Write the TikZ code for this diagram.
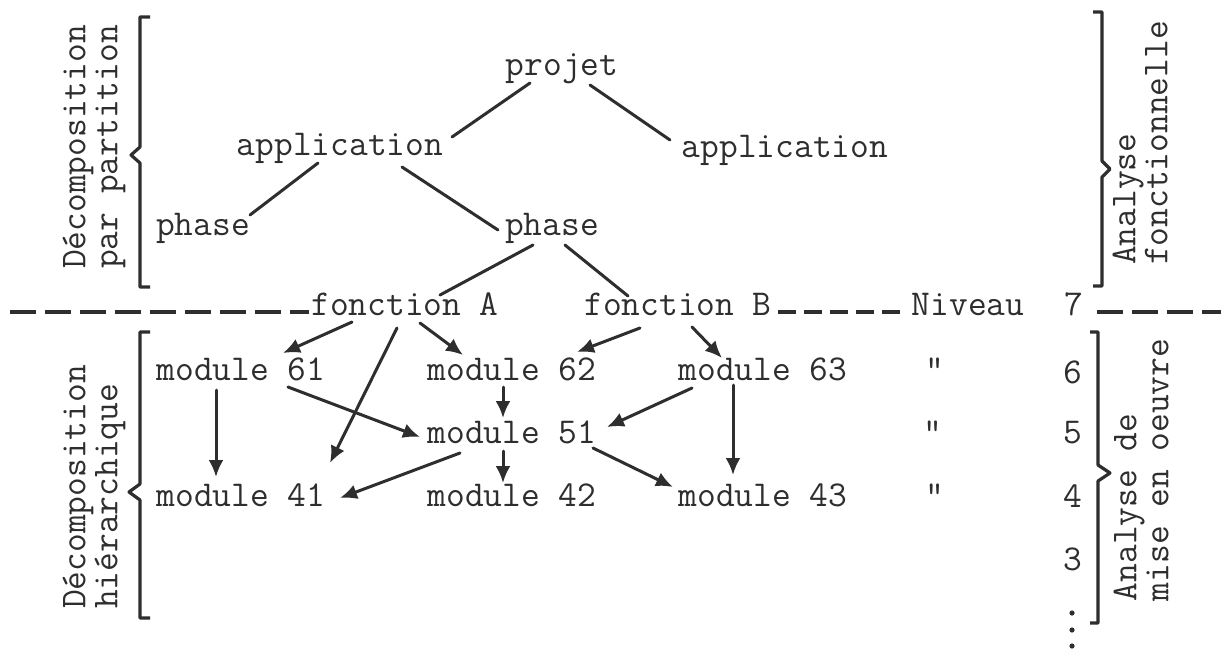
\documentclass[tikz,border=0pt]{standalone}
\usepackage{fontspec}
\usetikzlibrary{arrows.meta}
\definecolor{ink}{HTML}{2E2E2E}
\begin{document}
\begin{tikzpicture}[x=0.5pt,y=-0.5pt,
  every node/.style={inner sep=0pt,text=ink,font=\fontsize{18.2}{16}\selectfont\ttfamily},
  lbl/.style={anchor=base},
  side/.style={rotate=90,align=left},
  link/.style={draw=ink,line width=1.5pt,line cap=round},
  arr/.style={link,-{Latex[length=8.5pt,width=7.5pt]}},
  brace/.style={draw=ink,line width=1.6pt,line join=round},
  dashline/.style={draw=ink,line width=2pt,dash pattern=on 13pt off 4.5pt}]
\useasboundingbox[fill=white] (0,0) rectangle (1221,649);

% --- partition tree (upper half)
\node[lbl] (pj)   at (562,75)  {projet};
\node[lbl] (appL) at (340,155) {application};
\node[lbl] (appR) at (785,157) {application};
\node[lbl] (phL)  at (203,235) {phase};
\node[lbl] (phR)  at (552,235) {phase};

% --- level 7 row
\node[lbl] (fA)  at (405,315)  {fonction A};
\node[lbl] (fB)  at (678,315)  {fonction B};
\node[lbl] (niv) at (968,315)  {Niveau};
\node[lbl] (n7)  at (1074,315) {7};

% --- module hierarchy (lower half)
\node[lbl] (m61) at (241,380) {module 61};
\node[lbl] (m62) at (512,380) {module 62};
\node[lbl] (m63) at (763,380) {module 63};
\node[lbl] (m51) at (512,443) {module 51};
\node[lbl] (m41) at (241,506) {module 41};
\node[lbl] (m42) at (512,506) {module 42};
\node[lbl] (m43) at (763,506) {module 43};

% --- ditto marks and level numbers
\node[lbl] (d6) at (935,380) {"};
\node[lbl] (d5) at (933,443) {"};
\node[lbl] (d4) at (935,506) {"};
\node[lbl] (n6) at (1073,383) {6};
\node[lbl] (n5) at (1073,443) {5};
\node[lbl] (n4) at (1073,507) {4};
\node[lbl] (n3) at (1073,570) {3};
\foreach \yy in {613,630,646} \fill[ink] (1072,\yy) circle (2.6);

% --- side labels
\node[side] (lp) at (94,147)   {Décomposition\\par partition};
\node[side] (lh) at (94,487)   {Décomposition\\hiérarchique};
\node[side] (rf) at (1140,143) {Analyse\\fonctionnelle};
\node[side] (rm) at (1141,470) {Analyse de\\mise en oeuvre};

% --- braces
\draw[brace] (150,17) -- (140,17) -- (140,147) -- (131,155) -- (140,163) -- (140,287) -- (150,287);
\draw[brace] (150,332) -- (140,332) -- (140,484) -- (129,492) -- (140,500) -- (140,618) -- (150,618);
\draw[brace] (1093,12) -- (1102,12) -- (1102,161) -- (1110,169) -- (1102,177) -- (1102,286) -- (1093,286);
\draw[brace] (1090,332) -- (1098,332) -- (1098,465) -- (1110,473) -- (1098,481) -- (1098,623) -- (1090,623);

% --- level separator
\coordinate (sepL) at (10,312);
\coordinate (sepR) at (1221,312);
\draw[dashline] (sepL) -- ([shift={(-2,-3)}]fA.base west);
\draw[dashline,dash pattern=on 9pt off 4pt] ([shift={(6,-3)}]fB.base east) -- ([shift={(-6,-3)}]niv.base west);
\draw[dashline] ([shift={(13,-3)}]n7.base east) -- (sepR);

% --- partition links
\draw[link] ([shift={(-32,8)}]pj.base)   -- ([shift={(112,-18)}]appL.base);
\draw[link] ([shift={(28,10)}]pj.base)   -- ([shift={(-115,-17)}]appR.base);
\draw[link] ([shift={(-22,8)}]appL.base) -- ([shift={(47,-20)}]phL.base);
\draw[link] ([shift={(62,12)}]appL.base) -- ([shift={(-54,-5)}]phR.base);
\draw[link] ([shift={(-19,10)}]phR.base) -- ([shift={(35,-20)}]fA.base);
\draw[link] ([shift={(13,10)}]phR.base)  -- ([shift={(-50,-19)}]fB.base);

% --- hierarchy arrows
\draw[arr] ([shift={(-53,7)}]fA.base)  -- ([shift={(42,-27)}]m61.base);
\draw[arr] ([shift={(-8,13)}]fA.base)  -- ([shift={(89,-43)}]m41.base);
\draw[arr] ([shift={(15,8)}]fA.base)   -- ([shift={(-49,-25)}]m62.base);
\draw[arr] ([shift={(-38,13)}]fB.base) -- ([shift={(65,-28)}]m62.base);
\draw[arr] ([shift={(14,12)}]fB.base)  -- ([shift={(-41,-22)}]m63.base);
\draw[arr] ([shift={(-25,10)}]m61.base) -- ([shift={(-25,-29)}]m41.base);
\draw[arr] ([shift={(47,7)}]m61.base)  -- ([shift={(-92,-6)}]m51.base);
\draw[arr] ([shift={(-9,7)}]m62.base)  -- ([shift={(-9,-25)}]m51.base);
\draw[arr] ([shift={(-71,8)}]m63.base) -- ([shift={(95,-16)}]m51.base);
\draw[arr] ([shift={(-30,5)}]m63.base) -- ([shift={(-30,-31)}]m43.base);
\draw[arr] ([shift={(-52,10)}]m51.base) -- ([shift={(99,-8)}]m41.base);
\draw[arr] ([shift={(-9,8)}]m51.base)  -- ([shift={(-9,-23)}]m42.base);
\draw[arr] ([shift={(81,5)}]m51.base)  -- ([shift={(-90,-19)}]m43.base);
\end{tikzpicture}
\end{document}
